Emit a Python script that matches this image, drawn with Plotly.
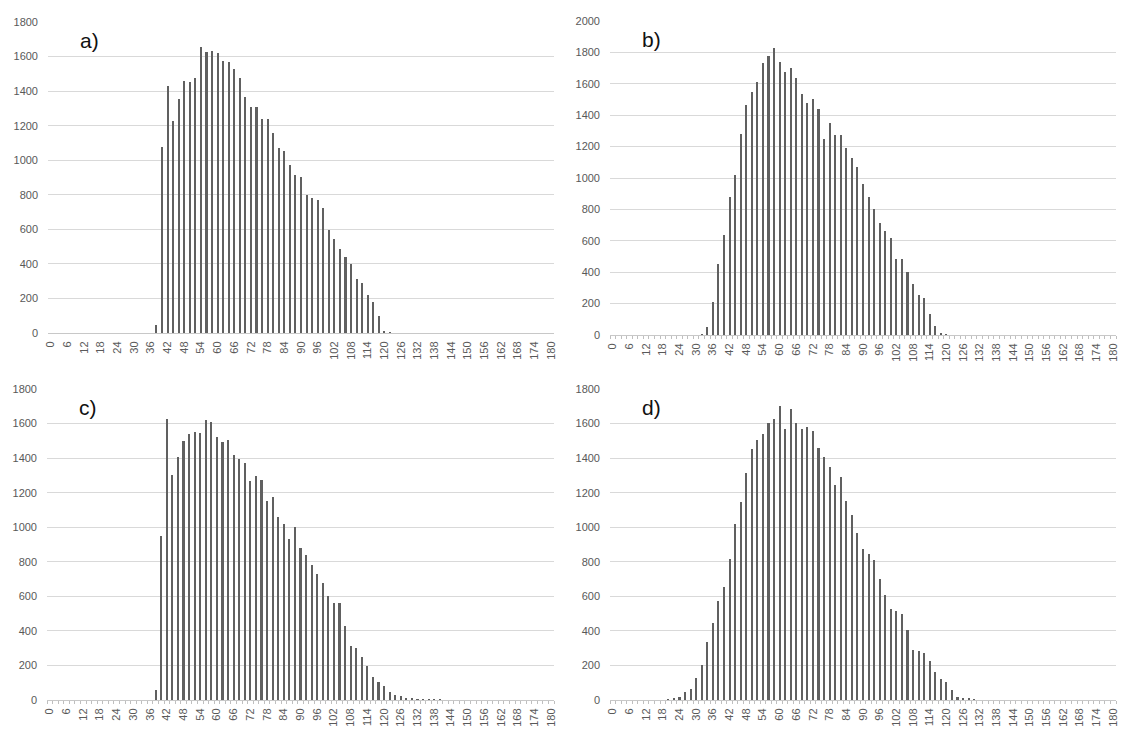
import plotly.graph_objects as go

# ---- data ----
tick_values = [0, 6, 12, 18, 24, 30, 36, 42, 48, 54, 60, 66, 72, 78, 84, 90,
               96, 102, 108, 114, 120, 126, 132, 138, 144, 150, 156, 162, 168, 174, 180]
tick_labels = [str(v) for v in tick_values]

a_start = 38
a_values = [44, 1077, 1429, 1228, 1353, 1459, 1450, 1477, 1656, 1627, 1633, 1620, 1573, 1566,
            1527, 1477, 1367, 1307, 1309, 1236, 1236, 1160, 1071, 1054, 971, 915, 903, 799,
            780, 772, 722, 598, 542, 488, 438, 402, 311, 290, 222, 180, 98, 10, 5]

b_start = 32
b_values = [4, 53, 213, 451, 634, 881, 1019, 1279, 1464, 1545, 1609, 1730, 1777, 1826, 1736,
            1677, 1698, 1640, 1534, 1479, 1502, 1438, 1249, 1353, 1277, 1275, 1189, 1126, 1068,
            962, 881, 800, 715, 660, 615, 485, 486, 402, 323, 253, 238, 132, 57, 10, 3]

c_start = 38
c_values = [56, 952, 1627, 1304, 1406, 1497, 1540, 1549, 1544, 1621, 1611, 1520, 1491, 1503,
            1416, 1395, 1371, 1267, 1298, 1271, 1149, 1174, 1058, 1019, 934, 1000, 880, 838,
            779, 729, 679, 602, 563, 563, 427, 315, 300, 251, 199, 133, 106, 83, 48, 27, 21,
            12, 8, 5, 4, 3, 3, 2]

d_start = 20
d_values = [4, 10, 19, 46, 66, 128, 201, 335, 445, 573, 656, 816, 1021, 1145, 1311, 1453, 1505,
            1542, 1602, 1629, 1704, 1567, 1685, 1603, 1567, 1580, 1557, 1460, 1406, 1348, 1246,
            1290, 1149, 1068, 965, 874, 843, 812, 700, 609, 524, 515, 497, 404, 292, 284, 273,
            226, 164, 122, 103, 60, 19, 13, 6, 3]

panels = [
    ("a)", a_start, a_values, 1800),
    ("b)", b_start, b_values, 2000),
    ("c)", c_start, c_values, 1800),
    ("d)", d_start, d_values, 1800),
]

W, H = 1121, 734
# pixel boxes of plot areas: (left, right, top, bottom)
boxes = [
    (48, 554, 22, 333),
    (610, 1116, 21, 335),
    (47, 554, 389, 700),
    (610, 1116, 389, 700),
]
show_minor = [False, True, True, True]

BAR = "#606060"
GRID = "#d9d9d9"
TXT = "#595959"
FONT = "Liberation Sans"

fig = go.Figure()
layout = dict(width=W, height=H, margin=dict(l=0, r=0, t=0, b=0, autoexpand=False),
              paper_bgcolor="white", plot_bgcolor="white", showlegend=False,
              bargap=0)
annotations = []

for i, ((label, start, vals, ymax), (l, r, t, b)) in enumerate(zip(panels, boxes)):
    n = i + 1
    xs = [start + 2 * k for k in range(len(vals))]
    xa = "x" if n == 1 else f"x{n}"
    ya = "y" if n == 1 else f"y{n}"
    fig.add_trace(go.Bar(x=xs, y=vals, width=0.75, marker=dict(color=BAR, line=dict(width=0)),
                         xaxis=xa, yaxis=ya))
    xkey = "xaxis" if n == 1 else f"xaxis{n}"
    ykey = "yaxis" if n == 1 else f"yaxis{n}"
    xaxis = dict(domain=[l / W, r / W], anchor=ya, type="linear", range=[-1, 181],
                 tickmode="array", tickvals=tick_values, ticktext=tick_labels,
                 tickangle=-90, tickfont=dict(family=FONT, size=11, color=TXT),
                 showgrid=False, zeroline=False, showline=True, linecolor="#c8c8c8",
                 linewidth=1, ticks="", ticklabelstandoff=3, fixedrange=True,
                 automargin=False)
    if show_minor[i]:
        xaxis["minor"] = dict(ticks="outside", ticklen=3, tickcolor="#bfbfbf",
                              tick0=1, dtick=2, showgrid=False)
    yaxis = dict(domain=[1 - b / H, 1 - t / H], anchor=xa, range=[0, ymax],
                 tickmode="linear", tick0=0, dtick=200, showgrid=True, gridcolor=GRID,
                 gridwidth=1, zeroline=False, showline=False, ticks="",
                 tickfont=dict(family=FONT, size=11, color=TXT), ticklabelstandoff=9,
                 fixedrange=True, automargin=False)
    layout[xkey] = xaxis
    layout[ykey] = yaxis
    annotations.append(dict(text=label, xref=f"{xa} domain", yref=f"{ya} domain",
                            x=0.06, y=0.94, xanchor="left", yanchor="middle",
                            showarrow=False,
                            font=dict(family=FONT, size=21, color="#111111")))

layout["annotations"] = annotations
fig.update_layout(**layout)
fig.write_html("out.html", config={"displayModeBar": False},
               post_script="document.body.style.margin='0';document.body.style.overflow='hidden';")
